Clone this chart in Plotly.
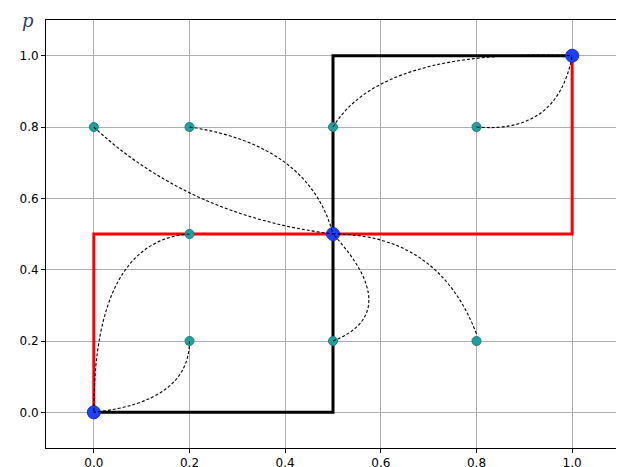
import math
import plotly.graph_objects as go

red_q = [0, 0, 1, 1]
red_p = [0, 0.5, 0.5, 1]
blk_q = [0, 0.5, 0.5, 1]
blk_p = [0, 0, 1, 1]
small_q = [0, 0.2, 0.5, 0.8, 0.2, 0.2, 0.5, 0.8]
small_p = [0.8, 0.8, 0.8, 0.8, 0.5, 0.2, 0.2, 0.2]
big_q = [0, 0.5, 1]
big_p = [0, 0.5, 1]
# arrows: start, end, bezier control
arr_start = [(0, 0.8), (0.2, 0.8), (0.2, 0.5), (0.2, 0.2), (0.5, 0.2), (0.8, 0.22), (0.5, 0.8), (0.8, 0.8)]
arr_end = [(0.5, 0.5), (0.5, 0.5), (0.0, 0.0), (0.0, 0.0), (0.5, 0.5), (0.5, 0.5), (1.0, 1.0), (1.0, 1.0)]
arr_ctrl = [(0.2, 0.55), (0.45, 0.75), (0.0, 0.48), (0.2, 0.03), (0.65, 0.28), (0.72, 0.5), (0.6, 1.02), (0.97, 0.78)]

fig = go.Figure()
fig.add_trace(go.Scatter(x=blk_q, y=blk_p, mode="lines", line=dict(color="black", width=3)))
fig.add_trace(go.Scatter(x=red_q, y=red_p, mode="lines", line=dict(color="red", width=3)))
for (sx, sy), (ex, ey), (cx, cy) in zip(arr_start, arr_end, arr_ctrl):
    fig.add_shape(type="path", path=f"M {sx},{sy} Q {cx},{cy} {ex},{ey}",
                  line=dict(color="black", width=1.1, dash="3px,2px"), layer="above")
    dx, dy = (cx - ex) * 480, -(cy - ey) * 357
    n = math.hypot(dx, dy)
    fig.add_annotation(x=ex, y=ey, ax=dx / n * 16, ay=dy / n * 16, xref="x", yref="y",
                       showarrow=True, arrowhead=2, arrowsize=1.1, arrowwidth=1.1,
                       arrowcolor="black", standoff=6, startstandoff=8, text=" ")
fig.add_trace(go.Scatter(x=small_q, y=small_p, mode="markers",
                         marker=dict(color="#20a0a0", size=9, line=dict(color="#178080", width=1))))
fig.add_trace(go.Scatter(x=big_q, y=big_p, mode="markers",
                         marker=dict(color="#1f3fff", size=13, line=dict(color="#1030d0", width=1))))

ax = dict(showline=True, linecolor="black", linewidth=1, mirror=True, showgrid=True,
          gridcolor="#b0b0b0", gridwidth=1, zeroline=False, ticks="outside", ticklen=4,
          tickcolor="black", tickfont=dict(family="DejaVu Sans", size=12, color="black"),
          tickformat=".1f", dtick=0.2)
fig.update_xaxes(**ax, range=[-0.1, 1.1], tick0=0)
fig.update_yaxes(**ax, range=[-0.1, 1.1], tick0=0)
fig.add_annotation(text="<i>q</i>", x=1.0, y=0, xref="paper", yref="paper", xanchor="left",
                   yanchor="top", showarrow=False, font=dict(family="DejaVu Serif", size=18), xshift=2, yshift=12)
fig.add_annotation(text="<i>p</i>", x=0, y=1.0, xref="paper", yref="paper", xanchor="right",
                   yanchor="top", showarrow=False, font=dict(family="DejaVu Serif", size=18), xshift=-10, yshift=12)
fig.update_layout(width=624, height=467, showlegend=False, plot_bgcolor="white", paper_bgcolor="white",
                  margin=dict(l=38, r=12, t=12, b=27, autoexpand=False))
fig.write_html("out.html")
